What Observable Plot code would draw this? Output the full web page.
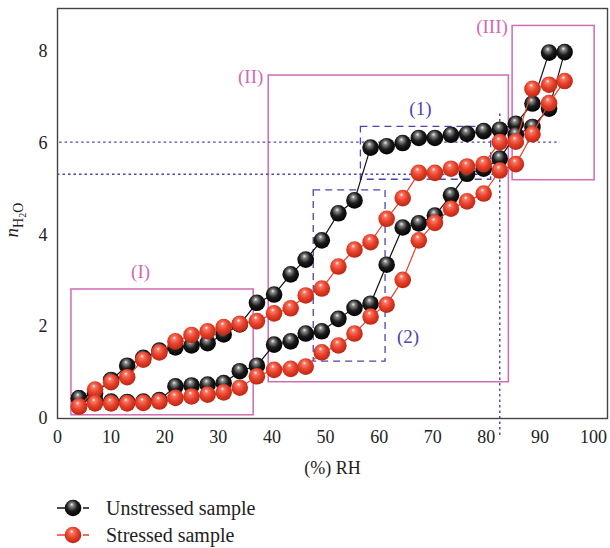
<!DOCTYPE html>
<html><head><meta charset="utf-8">
<script src="https://cdn.jsdelivr.net/npm/d3@7"></script>
<script src="https://cdn.jsdelivr.net/npm/@observablehq/plot@0.6"></script>
<style>
body{margin:0;background:#fff;font-family:"Liberation Serif","DejaVu Serif",serif;position:relative;width:610px;height:548px;overflow:hidden;}
svg text{font-family:"Liberation Serif","DejaVu Serif",serif !important;}
#legend{position:absolute;left:0;top:0;width:610px;}
.row{position:absolute;left:56px;height:28px;display:flex;align-items:center;font-size:20px;color:#222;}
.row svg{margin-right:16px;}
</style></head><body>
<div id="chart"></div>
<div id="legend"></div>
<script>
// Relative humidity steps (%)
const rh = [4,7,10,13,16,19,22,25,28,31,34,37.2,40.4,43.5,46.3,49.3,52.4,55.4,58.4,61.4,64.4,67.4,70.4,73.4,76.4,79.5,82.5,85.5,88.6,91.7,94.6];
// Unstressed sample (black)
const unstressedUpper = [0.44,0.55,0.84,1.15,1.32,1.48,1.55,1.59,1.64,1.83,2.05,2.52,2.70,3.14,3.46,3.88,4.47,4.75,5.90,5.93,6.00,6.11,6.11,6.18,6.20,6.26,6.29,6.42,6.86,7.97];
const unstressedLower = [0.44,0.40,0.37,0.36,0.37,0.40,0.70,0.72,0.74,0.77,1.03,1.15,1.61,1.68,1.85,1.90,2.17,2.41,2.50,3.35,4.16,4.25,4.42,4.86,5.33,5.44,5.66,6.18,6.35,6.75,7.98];
// Stressed sample (red)
const stressedUpper = [0.26,0.63,0.79,0.90,1.28,1.44,1.68,1.82,1.90,1.99,2.06,2.12,2.29,2.40,2.68,2.83,3.31,3.68,3.84,4.35,4.80,5.35,5.35,5.44,5.49,5.54,6.02,6.03,7.18,7.27];
const stressedLower = [0.26,0.33,0.33,0.33,0.34,0.37,0.45,0.48,0.52,0.57,0.67,0.92,1.06,1.08,1.13,1.44,1.59,1.85,2.22,2.48,3.02,3.88,4.26,4.57,4.73,4.90,5.40,5.54,6.19,6.87,7.35];

const xTicks = [0,10,20,30,40,50,60,70,80,90,100];
const yTicks = [0,2,4,6,8];

// Annotation regions (data units)
const regionNames = ["(I)","(II)","(III)"];
const regionX1 = [2.6, 39.4, 84.9];
const regionX2 = [36.6, 84.2, 100.2];
const regionY1 = [0.07, 0.79, 5.19];
const regionY2 = [2.81, 7.47, 8.55];
const regionLabelX = [15.5, 38.4, 84.0];
const regionLabelY = [3.19, 7.45, 8.52];
const regionLabelAnchor = ["middle","end","end"];

const zoneNames = ["(1)","(2)"];
const zoneX1 = [56.6, 47.8];
const zoneX2 = [80.9, 61.2];
const zoneY1 = [5.2, 1.24];
const zoneY2 = [6.35, 4.97];
const zoneLabelX = [67.7, 65.4];
const zoneLabelY = [6.75, 1.78];

const guideY = [6.02, 5.32];
const guideX1 = [0.4, 0];
const guideX2 = [93.8, 82.5];
const guideVX = 82.5, guideVY1 = -0.37, guideVY2 = 6.64;

const MAG = "#cf6bb3", BLUE = "#4b47a8", RED = "#e8402a";
const FONT = "'Liberation Serif', 'DejaVu Serif', serif";

function series(vals, sample, branch) {
  return vals.map((v, i) => ({rh: rh[i], n: v, sample, branch}));
}
const black = [series(unstressedUpper, "Unstressed", "upper"), series(unstressedLower, "Unstressed", "lower")];
const red = [series(stressedUpper, "Stressed", "upper"), series(stressedLower, "Stressed", "lower")];

const regions = regionNames.map((t, i) => ({t, x1: regionX1[i], x2: regionX2[i], y1: regionY1[i], y2: regionY2[i], lx: regionLabelX[i], ly: regionLabelY[i], a: regionLabelAnchor[i]}));
const zones = zoneNames.map((t, i) => ({t, x1: zoneX1[i], x2: zoneX2[i], y1: zoneY1[i], y2: zoneY2[i], lx: zoneLabelX[i], ly: zoneLabelY[i]}));
const guides = guideY.map((y, i) => ({y, x1: guideX1[i], x2: guideX2[i]}));

const marks = [
  Plot.frame({stroke: "#444", strokeWidth: 1.4}),
  Plot.axisX({ticks: xTicks, tickSize: 0, tickPadding: 12, label: "(%) RH", labelAnchor: "center", labelOffset: 55, labelArrow: "none", fill: "#222", fontFamily: FONT, fontSize: 18}),
  Plot.axisY({ticks: yTicks, tickSize: 0, tickPadding: 10, label: null, fill: "#222", fontFamily: FONT, fontSize: 18}),
  Plot.rect(regions, {x1: "x1", x2: "x2", y1: "y1", y2: "y2", fill: "none", stroke: MAG, strokeWidth: 1.5}),
  Plot.text(regions.filter(d => d.a === "middle"), {x: "lx", y: "ly", text: "t", fill: MAG, fontSize: 19, fontFamily: FONT, textAnchor: "middle"}),
  Plot.text(regions.filter(d => d.a === "end"), {x: "lx", y: "ly", text: "t", fill: MAG, fontSize: 19, fontFamily: FONT, textAnchor: "end"}),
  Plot.rect(zones, {x1: "x1", x2: "x2", y1: "y1", y2: "y2", fill: "none", stroke: BLUE, strokeWidth: 1.3, strokeDasharray: "7,5"}),
  Plot.text(zones, {x: "lx", y: "ly", text: "t", fill: BLUE, fontSize: 19, fontFamily: FONT}),
  Plot.ruleY(guides, {y: "y", x1: "x1", x2: "x2", stroke: BLUE, strokeWidth: 1.4, strokeDasharray: "2.5,3"}),
  Plot.ruleX([guideVX], {x: d => d, y1: guideVY1, y2: guideVY2, stroke: BLUE, strokeWidth: 1.4, strokeDasharray: "2.5,3"}),
];
for (const s of black) {
  marks.push(Plot.line(s, {x: "rh", y: "n", stroke: "#111", strokeWidth: 1.2}));
}
for (const s of black) {
  marks.push(Plot.dot(s, {x: "rh", y: "n", r: 8.3, fill: "url(#ballBlack)", stroke: "none"}));
}
for (const s of red) {
  marks.push(Plot.line(s, {x: "rh", y: "n", stroke: RED, strokeWidth: 1.2}));
}
for (const s of red) {
  marks.push(Plot.dot(s, {x: "rh", y: "n", r: 8.3, fill: "url(#ballRed)", stroke: "none"}));
}

const chart = Plot.plot({
  width: 610, height: 490,
  marginTop: 8, marginLeft: 57, marginRight: 3, marginBottom: 72,
  x: {domain: [0, 102.6]},
  y: {domain: [0, 8.93]},
  style: "font-family: 'Liberation Serif', 'DejaVu Serif', serif; font-size: 18px; background: #fff; overflow: visible;",
  marks
});

const svg = d3.select(chart);
svg.insert("defs", ":first-child").html(`
  <radialGradient id="ballBlack" cx="0.45" cy="0.42" r="0.6" fx="0.42" fy="0.28">
    <stop offset="0" stop-color="#f2f2f2"/>
    <stop offset="0.18" stop-color="#8a8a8a"/>
    <stop offset="0.55" stop-color="#1c1c1c"/>
    <stop offset="1" stop-color="#000"/>
  </radialGradient>
  <radialGradient id="ballRed" cx="0.45" cy="0.42" r="0.6" fx="0.42" fy="0.28">
    <stop offset="0" stop-color="#ffffff"/>
    <stop offset="0.18" stop-color="#f47a66"/>
    <stop offset="0.55" stop-color="#e8402a"/>
    <stop offset="1" stop-color="#b82512"/>
  </radialGradient>`);

// y-axis label n_{H2O}
const yl = svg.append("text")
  .attr("transform", "translate(18,220) rotate(-90)")
  .attr("text-anchor", "middle")
  .attr("fill", "#222")
  .attr("font-size", 19);
yl.append("tspan").attr("font-style", "italic").text("n");
yl.append("tspan").attr("font-size", 14).attr("dy", 5).text("H");
yl.append("tspan").attr("font-size", 10).attr("dy", 3).text("2");
yl.append("tspan").attr("font-size", 14).attr("dy", -3).text("O");

document.getElementById("chart").appendChild(chart);

// legend
const legendItems = [["Unstressed sample", "#111", "ballBlack", 494], ["Stressed sample", RED, "ballRed", 521]];
const leg = document.getElementById("legend");
for (const [label, col, grad, top] of legendItems) {
  const row = document.createElement("div");
  row.className = "row";
  row.style.top = top + "px";
  row.innerHTML = `<svg width="34" height="20"><line x1="1" x2="33" y1="10" y2="10" stroke="${col}" stroke-width="1.3" stroke-dasharray="8,18"/><circle cx="17" cy="10" r="8.3" fill="url(#${grad})"/></svg><span>${label}</span>`;
  leg.appendChild(row);
}
</script>
</body></html>
